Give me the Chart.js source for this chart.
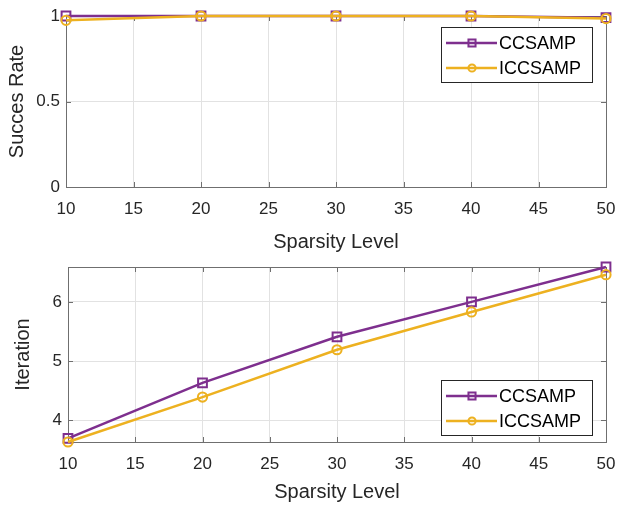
<!DOCTYPE html>
<html>
<head>
<meta charset="utf-8">
<script src="https://cdn.jsdelivr.net/npm/chart.js@4"></script>
<style>
  html, body { margin: 0; padding: 0; background: #fff; }
  #wrap { position: relative; width: 619px; height: 506px; }
  .box { position: absolute; left: 0; width: 619px; }
</style>
</head>
<body>
<div id="wrap">
  <div class="box" style="top:0;height:255px"><canvas id="rateChart" width="619" height="255"></canvas></div>
  <div class="box" style="top:250px;height:256px"><canvas id="iterChart" width="619" height="256"></canvas></div>
</div>
<script>
// ---- data ----
const sparsity = [10, 20, 30, 40, 50];
const seriesNames = ["CCSAMP", "ICCSAMP"];
const rateCCSAMP = [1.0, 1.0, 1.0, 1.0, 0.99];
const rateICCSAMP = [0.975, 1.0, 1.0, 1.0, 0.985];
const iterCCSAMP = [3.69, 4.63, 5.41, 6.0, 6.59];
const iterICCSAMP = [3.63, 4.39, 5.19, 5.83, 6.46];
const xTicks = [10, 15, 20, 25, 30, 35, 40, 45, 50];
const rateTicks = [0, 0.5, 1];
const iterTicks = [4, 5, 6];

const PURPLE = "#7E2F8E";
const YELLOW = "#EDB120";
const FONT = '"Liberation Sans", Arial, Helvetica, sans-serif';
const AXIS = "#262626";
const FRAME = "#6f6f6f";
const GRID = "#e2e2e2";

const toPoints = (ys) => ys.map((y, i) => ({ x: sparsity[i], y }));

// axes box + inward tick marks, matlab style
const frameBox = {
  id: "frameBox",
  beforeDatasetsDraw(chart) {
    const { ctx, chartArea: a, scales } = chart;
    ctx.save();
    ctx.strokeStyle = FRAME;
    ctx.lineWidth = 1;
    ctx.beginPath();
    scales.x.ticks.forEach((t) => {
      const px = Math.round(scales.x.getPixelForValue(t.value)) + 0.5;
      ctx.moveTo(px, a.bottom); ctx.lineTo(px, a.bottom - 5);
      ctx.moveTo(px, a.top); ctx.lineTo(px, a.top + 5);
    });
    scales.y.ticks.forEach((t) => {
      const py = Math.round(scales.y.getPixelForValue(t.value)) + 0.5;
      ctx.moveTo(a.left, py); ctx.lineTo(a.left + 5, py);
      ctx.moveTo(a.right, py); ctx.lineTo(a.right - 5, py);
    });
    ctx.stroke();
    ctx.strokeRect(Math.round(a.left) + 0.5, Math.round(a.top) + 0.5,
      Math.round(a.right - a.left), Math.round(a.bottom - a.top));
    ctx.restore();
  },
};

// boxed legend inside the axes
const boxLegend = {
  id: "boxLegend",
  afterDraw(chart, args, opts) {
    const { ctx, chartArea: a } = chart;
    const w = 152, h = 56;
    const x0 = Math.round(a.right - 13 - w);
    const y0 = Math.round(opts.top ? a.top + 11 : a.bottom - 6 - h);
    ctx.save();
    ctx.fillStyle = "#fff";
    ctx.fillRect(x0, y0, w, h);
    ctx.strokeStyle = AXIS;
    ctx.lineWidth = 1;
    ctx.strokeRect(x0 + 0.5, y0 + 0.5, w - 1, h - 1);
    chart.data.datasets.forEach((ds, i) => {
      const y = y0 + 16 + i * 25;
      ctx.strokeStyle = ds.borderColor;
      ctx.lineWidth = 2.5;
      ctx.beginPath();
      ctx.moveTo(x0 + 5, y);
      ctx.lineTo(x0 + 56, y);
      ctx.stroke();
      ctx.fillStyle = "rgba(0,0,0,0)";
      ctx.lineWidth = 2;
      Chart.helpers.drawPoint(ctx, {
        pointStyle: ds.pointStyle,
        radius: ds.pointStyle === "rect" ? 5 : 3.6,
        borderWidth: 2,
        rotation: 0,
      }, x0 + 31, y);
      ctx.fillStyle = "#000";
      ctx.font = "18px " + FONT;
      ctx.textBaseline = "middle";
      ctx.textAlign = "left";
      ctx.fillText(ds.label, x0 + 58, y + 1);
    });
    ctx.restore();
  },
};

function makeDatasets(a, b) {
  const base = {
    borderWidth: 2.5,
    pointBorderWidth: 2,
    pointBackgroundColor: "rgba(0,0,0,0)",
    tension: 0,
    clip: false,
  };
  return [
    { ...base, label: seriesNames[0], data: toPoints(a), borderColor: PURPLE,
      pointBorderColor: PURPLE, pointStyle: "rect", pointRadius: 6.2, order: 1 },
    { ...base, label: seriesNames[1], data: toPoints(b), borderColor: YELLOW,
      pointBorderColor: YELLOW, pointStyle: "circle", pointRadius: 4.6, order: 0 },
  ];
}

function makeOptions(cfg) {
  return {
    responsive: false,
    animation: false,
    events: [],
    layout: { autoPadding: false, padding: { top: cfg.padTop, right: 13, left: 0, bottom: 0 } },
    plugins: {
      legend: { display: false },
      tooltip: { enabled: false },
      boxLegend: { top: cfg.legendTop },
    },
    scales: {
      x: {
        type: "linear",
        min: 10,
        max: 50,
        afterBuildTicks: (s) => { s.ticks = xTicks.map((v) => ({ value: v })); },
        afterFit: (s) => {
          s.height = cfg.xHeight;
          s.paddingLeft = 0;
          s.paddingRight = 0;
        },
        ticks: { color: AXIS, font: { family: FONT, size: 17 }, padding: 12, maxRotation: 0 },
        grid: { color: GRID, drawTicks: false },
        border: { display: false },
        title: {
          display: true, text: "Sparsity Level", color: AXIS,
          font: { family: FONT, size: 20 }, padding: { top: 0, bottom: cfg.xTitlePad },
        },
      },
      y: {
        type: "linear",
        min: cfg.yMin,
        max: cfg.yMax,
        afterBuildTicks: (s) => { s.ticks = cfg.yTicks.map((v) => ({ value: v })); },
        afterFit: (s) => {
          s.width = cfg.yWidth;
          s.paddingTop = 0;
          s.paddingBottom = 0;
        },
        ticks: {
          color: AXIS, font: { family: FONT, size: 17 }, padding: 6,
          callback: (v) => String(v),
        },
        grid: { color: GRID, drawTicks: false },
        border: { display: false },
        title: {
          display: true, text: cfg.yTitle, color: AXIS,
          font: { family: FONT, size: 20 }, padding: { top: cfg.yTitlePad, bottom: 0 },
        },
      },
    },
  };
}

new Chart(document.getElementById("rateChart"), {
  type: "line",
  data: { datasets: makeDatasets(rateCCSAMP, rateICCSAMP) },
  options: makeOptions({
    padTop: 16, legendTop: true, xHeight: 68, xTitlePad: 1,
    yMin: 0, yMax: 1, yTicks: rateTicks, yWidth: 66, yTitle: "Succes Rate", yTitlePad: 5,
  }),
  plugins: [frameBox, boxLegend],
});

new Chart(document.getElementById("iterChart"), {
  type: "line",
  data: { datasets: makeDatasets(iterCCSAMP, iterICCSAMP) },
  options: makeOptions({
    padTop: 17, legendTop: false, xHeight: 64, xTitlePad: 2,
    yMin: 3.63, yMax: 6.59, yTicks: iterTicks, yWidth: 68, yTitle: "Iteration", yTitlePad: 11,
  }),
  plugins: [frameBox, boxLegend],
});
</script>
</body>
</html>
